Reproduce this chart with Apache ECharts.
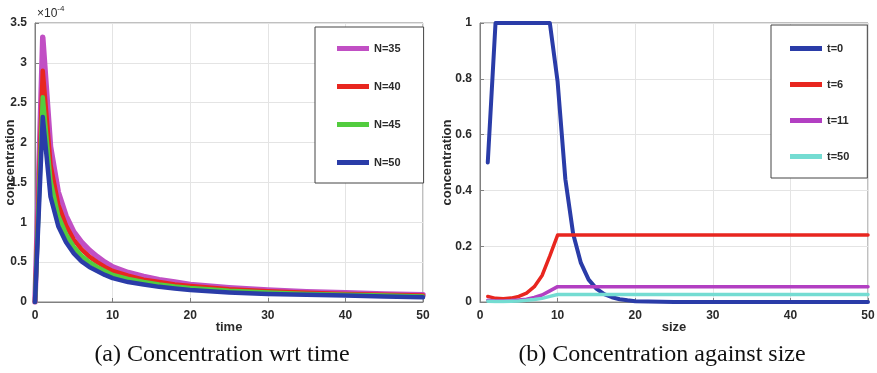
<!DOCTYPE html>
<html>
<head>
<meta charset="utf-8">
<script src="https://cdn.jsdelivr.net/npm/echarts@6/dist/echarts.min.js"></script>
<style>html,body{margin:0;padding:0;background:#fff}#c{width:877px;height:373px}</style>
</head>
<body>
<div id="c"></div>
<script>
// Left panel: concentration (x1e-4) vs time
const timePts = [0,1,2,3,4,5,6,7,8,9,10,12,14,16,18,20,25,30,35,40,45,50];
const n35 = [0,3.32,1.95,1.38,1.08,0.88,0.75,0.65,0.57,0.50,0.44,0.37,0.32,0.28,0.25,0.22,0.18,0.15,0.13,0.115,0.10,0.09];
const n40 = [0,2.90,1.72,1.22,0.96,0.78,0.66,0.57,0.50,0.44,0.39,0.33,0.28,0.25,0.22,0.20,0.16,0.135,0.115,0.10,0.09,0.08];
const n45 = [0,2.57,1.52,1.08,0.85,0.69,0.58,0.50,0.44,0.39,0.34,0.29,0.25,0.22,0.195,0.175,0.14,0.12,0.10,0.09,0.08,0.07];
const n50 = [0,2.32,1.32,0.95,0.75,0.61,0.51,0.44,0.39,0.34,0.30,0.25,0.22,0.19,0.17,0.15,0.12,0.10,0.09,0.08,0.07,0.06];
const leftNames = ['N=35','N=40','N=45','N=50'];

// Right panel: concentration vs size
const sizePts = [1,2,3,4,5,6,7,8,9,10,11,12,13,14,15,16,17,18,19,20,25,30,35,40,45,50];
const t0  = [0.5,1,1,1,1,1,1,1,1,0.79,0.44,0.245,0.14,0.08,0.048,0.028,0.017,0.01,0.006,0.003,0,0,0,0,0,0];
const t6  = [0.02,0.013,0.012,0.014,0.02,0.032,0.055,0.095,0.165,0.24,0.24,0.24,0.24,0.24,0.24,0.24,0.24,0.24,0.24,0.24,0.24,0.24,0.24,0.24,0.24,0.24];
const t11 = [0.006,0.004,0.004,0.005,0.007,0.01,0.016,0.025,0.04,0.055,0.055,0.055,0.055,0.055,0.055,0.055,0.055,0.055,0.055,0.055,0.055,0.055,0.055,0.055,0.055,0.055];
const t50 = [0.003,0.002,0.002,0.003,0.004,0.006,0.009,0.013,0.02,0.027,0.027,0.027,0.027,0.027,0.027,0.027,0.027,0.027,0.027,0.027,0.027,0.027,0.027,0.027,0.027,0.027];
const rightNames = ['t=0','t=6','t=11','t=50'];

const zip = (xs, ys) => xs.map((x, i) => [x, ys[i]]);

const leftColors = ['#c14fc4','#e8261f','#52cc3e','#2a3ca8'];
const rightColors = ['#2a3ca8','#e8261f','#b23fc2','#74dcd2'];

const FONT = 'Liberation Sans, Arial, sans-serif';
const labelStyle = {color:'#2a2a2a', fontSize:12, fontWeight:'bold', fontFamily:FONT};
const axisCommon = {
  axisLine:{show:true, lineStyle:{color:'#808080', width:1}},
  axisTick:{show:true, inside:true, length:4, lineStyle:{color:'#808080'}},
  splitLine:{show:true, lineStyle:{color:'#e4e4e4', width:1}},
  axisLabel:Object.assign({}, labelStyle),
  nameTextStyle:Object.assign({}, labelStyle, {fontSize:13}),
  nameMoveOverlap:false
};

const chart = echarts.init(document.getElementById('c'), null, {renderer:'canvas'});
const series = [];
[n35,n40,n45,n50].forEach((arr, i) => series.push({
  name: leftNames[i], type:'line', xAxisIndex:0, yAxisIndex:0,
  data: zip(timePts, arr), showSymbol:false, symbol:'none',
  lineStyle:{width: i===0 ? 5.5 : 4.5, color: leftColors[i], join:'round', cap:'round'},
  itemStyle:{color:leftColors[i]}, animation:false
}));
[t0,t6,t11,t50].forEach((arr, i) => series.push({
  name: rightNames[i], type:'line', xAxisIndex:1, yAxisIndex:1,
  data: zip(sizePts, arr), showSymbol:false, symbol:'none',
  lineStyle:{width: i===0 ? 4 : 3.5, color: rightColors[i], join:'round', cap:'round'},
  itemStyle:{color:rightColors[i]}, animation:false
}));

const legendCommon = {
  orient:'vertical', icon:'rect', itemHeight:5, itemWidth:32,
  backgroundColor:'#fff', borderColor:'#444', borderWidth:1, borderRadius:0,
  textStyle:Object.assign({}, labelStyle, {fontSize:11}),
  selectedMode:false
};

chart.setOption({
  animation:false,
  grid:[
    {left:35, right:454, top:23, bottom:71, show:true, borderColor:'#808080', borderWidth:1, containLabel:false, outerBoundsMode:'none'},
    {left:480, right:9, top:23, bottom:71, show:true, borderColor:'#808080', borderWidth:1, containLabel:false, outerBoundsMode:'none'}
  ],
  xAxis:[
    Object.assign({}, axisCommon, {gridIndex:0, type:'value', min:0, max:50, interval:10,
      name:'time', nameLocation:'middle', nameGap:19}),
    Object.assign({}, axisCommon, {gridIndex:1, type:'value', min:0, max:50, interval:10,
      name:'size', nameLocation:'middle', nameGap:19})
  ],
  yAxis:[
    Object.assign({}, axisCommon, {gridIndex:0, type:'value', min:0, max:3.5, interval:0.5,
      name:'concentration', nameLocation:'middle', nameGap:18}),
    Object.assign({}, axisCommon, {gridIndex:1, type:'value', min:0, max:1, interval:0.2,
      name:'concentration', nameLocation:'middle', nameGap:26})
  ],
  legend:[
    Object.assign({}, legendCommon, {data:leftNames, left:315, top:27, itemGap:27, padding:[16,23,15,22]}),
    Object.assign({}, legendCommon, {data:rightNames, left:771, top:25, itemGap:25, padding:[18,18,16,19]})
  ],
  graphic:[
    {type:'text', left:37, top:5, style:{
      text:'{a|×10}{b|-4}', rich:{
        a:{fontSize:12, fill:'#2a2a2a', fontFamily:FONT, verticalAlign:'bottom'},
        b:{fontSize:8, fill:'#2a2a2a', fontFamily:FONT, verticalAlign:'top', padding:[0,0,7,0]}
      }}},
    {type:'text', x:222, y:355, style:{text:'(a) Concentration wrt time', fontSize:24,
      fontFamily:'Liberation Serif, Times New Roman, serif', fill:'#111', textAlign:'center', textVerticalAlign:'middle'}},
    {type:'text', x:662, y:355, style:{text:'(b) Concentration against size', fontSize:24,
      fontFamily:'Liberation Serif, Times New Roman, serif', fill:'#111', textAlign:'center', textVerticalAlign:'middle'}}
  ],
  series: series
});
</script>
</body>
</html>
